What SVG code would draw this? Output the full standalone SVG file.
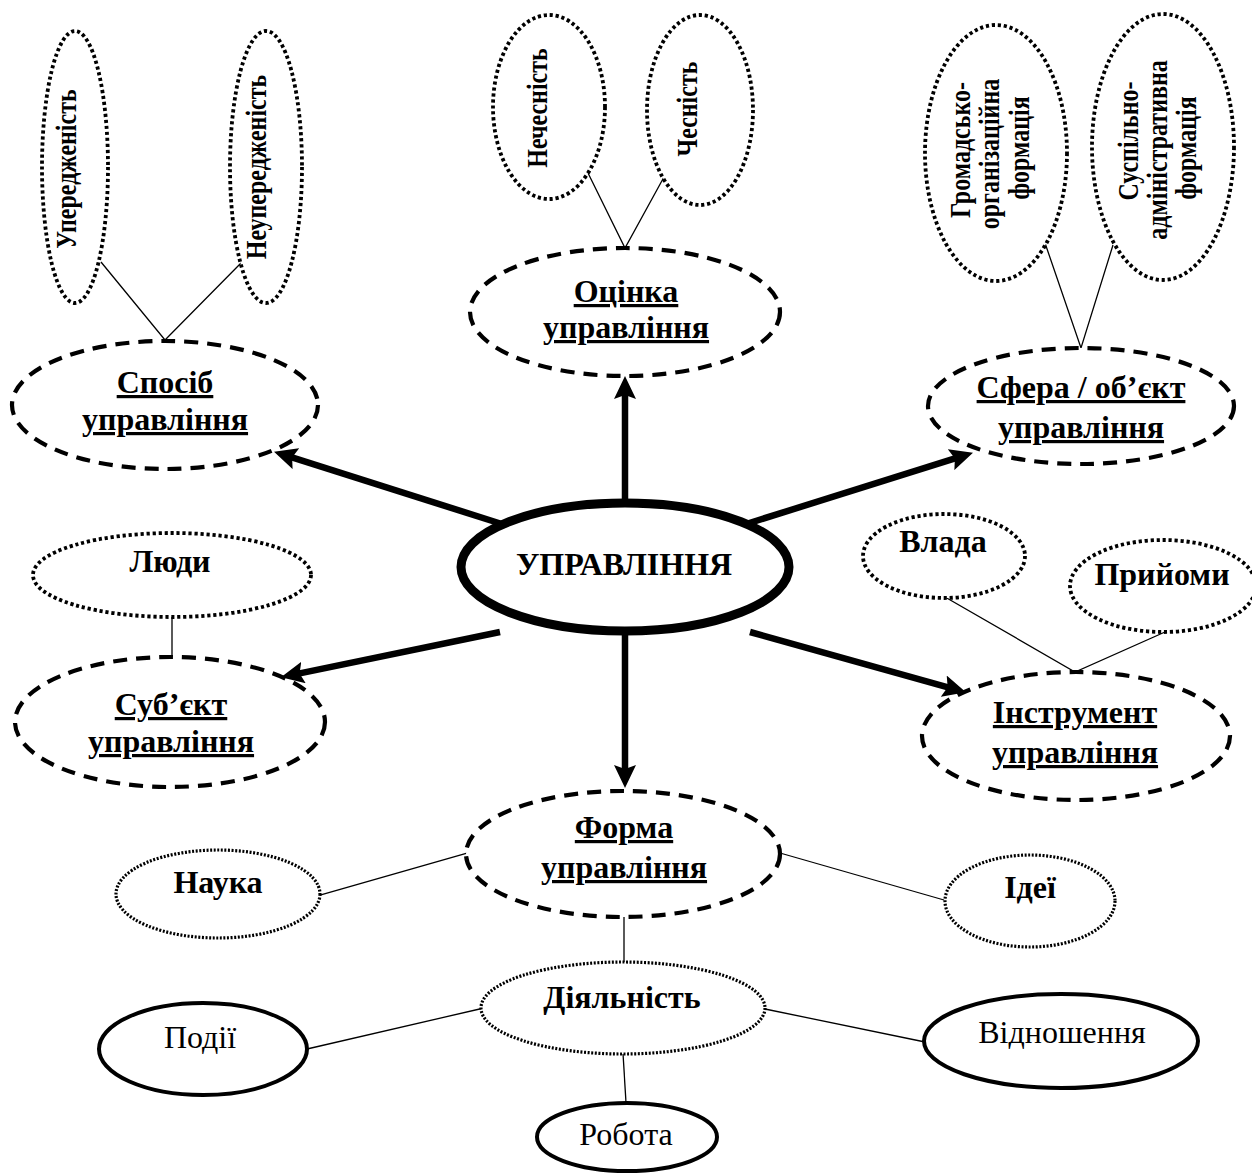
<svg xmlns="http://www.w3.org/2000/svg" width="1252" height="1176" viewBox="0 0 1252 1176">
  <style>
    text { font-family: "Liberation Serif", "Times New Roman", serif; fill: #000; }
    .b { font-weight: bold; font-size: 32px; text-anchor: middle; }
    .u { text-decoration: underline; }
    .r { font-size: 32px; text-anchor: middle; }
    .v { font-weight: bold; font-size: 24px; text-anchor: middle; }
    .main { fill: #fff; stroke: #000; stroke-width: 9; }
    .dash { fill: #fff; stroke: #000; stroke-width: 4.2; stroke-dasharray: 14 9; }
    .dot { fill: #fff; stroke: #000; stroke-width: 3.8; stroke-dasharray: 3.2 2.8; }
    .fdot { fill: #fff; stroke: #000; stroke-width: 3.2; stroke-dasharray: 2 1.6; }
    .solid { fill: #fff; stroke: #000; stroke-width: 4; }
    .thin { stroke: #000; stroke-width: 1.3; fill: none; }
    .arrow { stroke: #000; stroke-width: 6.5; fill: none; marker-end: url(#head); }
  </style>
  <defs>
    <marker id="head" markerUnits="userSpaceOnUse" markerWidth="24" markerHeight="22" refX="10" refY="11" orient="auto">
      <path d="M0,0 L23,11 L0,22 L4,11 z" fill="#000"/>
    </marker>
  </defs>
  <rect width="1252" height="1176" fill="#fff"/>

  <g id="connectors">
    <!-- thick arrows from the central node -->
    <line class="arrow" x1="625" y1="505" x2="625" y2="389"/>
    <line class="arrow" x1="505" y1="525" x2="286.4" y2="455.6"/>
    <line class="arrow" x1="743" y1="525" x2="960.6" y2="456.6"/>
    <line class="arrow" x1="500" y1="632" x2="293.7" y2="674.6"/>
    <line class="arrow" x1="750" y1="632" x2="953.4" y2="688.8"/>
    <line class="arrow" x1="625" y1="630" x2="625" y2="775"/>
    <!-- thin links to sub-nodes -->
    <polyline class="thin" points="101,262 165,340 242,262"/>
    <polyline class="thin" points="588,173 625,248 664,177"/>
    <polyline class="thin" points="1045,243 1081,348 1113,245"/>
    <line class="thin" x1="172" y1="617" x2="172" y2="657"/>
    <polyline class="thin" points="945,597 1075,672 1165,632"/>
    <line class="thin" x1="320" y1="895" x2="467" y2="853"/>
    <line class="thin" x1="780" y1="853" x2="944" y2="900"/>
    <line class="thin" x1="624" y1="916" x2="624" y2="963"/>
    <line class="thin" x1="307" y1="1049" x2="484" y2="1008"/>
    <line class="thin" x1="765" y1="1009" x2="925" y2="1042"/>
    <line class="thin" x1="623" y1="1053" x2="626" y2="1103"/>
  </g>

  <g id="upravlinnia">
    <ellipse class="main" cx="625" cy="567" rx="164" ry="64"/>
    <text class="b" x="624" y="575">УПРАВЛІННЯ</text>
  </g>

  <g id="sposib">
    <ellipse class="dash" cx="165" cy="405" rx="153" ry="64"/>
    <text class="b u" x="165" y="393">Спосіб</text>
    <text class="b u" x="165" y="430">управління</text>
  </g>
  <g id="uperedzhenist">
    <ellipse class="dot" cx="75" cy="167" rx="33" ry="136"/>
    <text class="v" transform="translate(76,169) rotate(-90) scale(1,1.2)">Упередженість</text>
  </g>
  <g id="neuperedzhenist">
    <ellipse class="dot" cx="266" cy="167" rx="36" ry="136"/>
    <text class="v" transform="translate(266,167) rotate(-90) scale(1,1.2)">Неупередженість</text>
  </g>

  <g id="otsinka">
    <ellipse class="dash" cx="625" cy="312" rx="155" ry="64"/>
    <text class="b u" x="626" y="302">Оцінка</text>
    <text class="b u" x="626" y="338">управління</text>
  </g>
  <g id="nechesnist">
    <ellipse class="dot" cx="549" cy="107" rx="56" ry="92"/>
    <text class="v" transform="translate(547,108) rotate(-90) scale(1,1.2)">Нечесність</text>
  </g>
  <g id="chesnist">
    <ellipse class="dot" cx="700" cy="110" rx="53" ry="95"/>
    <text class="v" transform="translate(697,109) rotate(-90) scale(1,1.2)">Чесність</text>
  </g>

  <g id="sfera">
    <ellipse class="dash" cx="1081" cy="406" rx="153" ry="58"/>
    <text class="b u" x="1081" y="398">Сфера / об’єкт</text>
    <text class="b u" x="1081" y="438">управління</text>
  </g>
  <g id="hromadsko">
    <ellipse class="dot" cx="996" cy="153" rx="71" ry="128"/>
    <text class="v" transform="translate(970,150) rotate(-90) scale(1,1.2)">Громадсько-</text>
    <text class="v" transform="translate(999,154) rotate(-90) scale(1,1.2)">організаційна</text>
    <text class="v" transform="translate(1029,148) rotate(-90) scale(1,1.2)">формація</text>
  </g>
  <g id="suspilno">
    <ellipse class="dot" cx="1163" cy="147" rx="71" ry="133"/>
    <text class="v" transform="translate(1138,141) rotate(-90) scale(1,1.2)">Суспільно-</text>
    <text class="v" transform="translate(1167,150) rotate(-90) scale(1,1.2)">адміністративна</text>
    <text class="v" transform="translate(1196,148) rotate(-90) scale(1,1.2)">формація</text>
  </g>

  <g id="subiekt">
    <ellipse class="dash" cx="170" cy="722" rx="155" ry="65"/>
    <text class="b u" x="171" y="715">Суб’єкт</text>
    <text class="b u" x="171" y="752">управління</text>
  </g>
  <g id="liudy">
    <ellipse class="dot" cx="172" cy="575" rx="139" ry="42"/>
    <text class="b" x="170" y="572">Люди</text>
  </g>

  <g id="instrument">
    <ellipse class="dash" cx="1076" cy="736" rx="154" ry="64"/>
    <text class="b u" x="1075" y="723">Інструмент</text>
    <text class="b u" x="1075" y="763">управління</text>
  </g>
  <g id="vlada">
    <ellipse class="dot" cx="944" cy="556" rx="81" ry="42"/>
    <text class="b" x="943" y="552">Влада</text>
  </g>
  <g id="pryiomy">
    <ellipse class="dot" cx="1163" cy="586" rx="93" ry="46"/>
    <text class="b" x="1162" y="585">Прийоми</text>
  </g>

  <g id="forma">
    <ellipse class="dash" cx="623" cy="854" rx="157" ry="63"/>
    <text class="b u" x="624" y="838">Форма</text>
    <text class="b u" x="624" y="878">управління</text>
  </g>
  <g id="nauka">
    <ellipse class="fdot" cx="218" cy="894" rx="102" ry="44"/>
    <text class="b" x="218" y="893">Наука</text>
  </g>
  <g id="idei">
    <ellipse class="fdot" cx="1030" cy="901" rx="85" ry="46"/>
    <text class="b" x="1030" y="898">Ідеї</text>
  </g>
  <g id="diialnist">
    <ellipse class="fdot" cx="623" cy="1008" rx="142" ry="46"/>
    <text class="b" x="622" y="1008">Діяльність</text>
  </g>
  <g id="podii">
    <ellipse class="solid" cx="203" cy="1049" rx="104" ry="46"/>
    <text class="r" x="200" y="1048">Події</text>
  </g>
  <g id="vidnoshennia">
    <ellipse class="solid" cx="1061" cy="1041" rx="137" ry="47"/>
    <text class="r" x="1062" y="1043">Відношення</text>
  </g>
  <g id="robota">
    <ellipse class="solid" cx="627" cy="1137" rx="90" ry="34"/>
    <text class="r" x="626" y="1145">Робота</text>
  </g>
</svg>
